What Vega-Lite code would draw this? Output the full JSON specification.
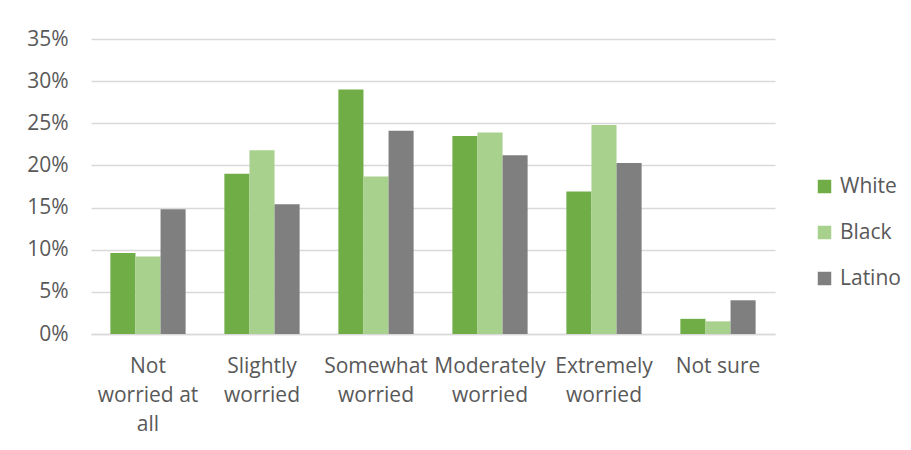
{
  "$schema": "https://vega.github.io/schema/vega-lite/v6.json",
  "autosize": {"type": "none"},
  "width": 684,
  "height": 295,
  "padding": {"left": 91, "top": 39, "right": 136, "bottom": 116},
  "background": "white",
  "data": {
    "values": [
      {"category": "Not worried at all", "group": "White", "value": 0.096},
      {"category": "Not worried at all", "group": "Black", "value": 0.092},
      {"category": "Not worried at all", "group": "Latino", "value": 0.148},
      {"category": "Slightly worried", "group": "White", "value": 0.190},
      {"category": "Slightly worried", "group": "Black", "value": 0.218},
      {"category": "Slightly worried", "group": "Latino", "value": 0.154},
      {"category": "Somewhat worried", "group": "White", "value": 0.290},
      {"category": "Somewhat worried", "group": "Black", "value": 0.187},
      {"category": "Somewhat worried", "group": "Latino", "value": 0.241},
      {"category": "Moderately worried", "group": "White", "value": 0.235},
      {"category": "Moderately worried", "group": "Black", "value": 0.239},
      {"category": "Moderately worried", "group": "Latino", "value": 0.212},
      {"category": "Extremely worried", "group": "White", "value": 0.169},
      {"category": "Extremely worried", "group": "Black", "value": 0.248},
      {"category": "Extremely worried", "group": "Latino", "value": 0.203},
      {"category": "Not sure", "group": "White", "value": 0.018},
      {"category": "Not sure", "group": "Black", "value": 0.015},
      {"category": "Not sure", "group": "Latino", "value": 0.040}
    ]
  },
  "mark": {"type": "bar"},
  "encoding": {
    "x": {
      "field": "category",
      "type": "nominal",
      "sort": null,
      "scale": {"paddingInner": 0.34, "paddingOuter": 0.17},
      "axis": {
        "title": null,
        "labelAngle": 0,
        "ticks": false,
        "domainColor": "#D9D9D9",
        "domainWidth": 1.5,
        "labelPadding": 21,
        "labelLineHeight": 29,
        "labelBaseline": "top",
        "labelExpr": "datum.value == 'Not worried at all' ? ['Not', 'worried at', 'all'] : datum.value == 'Not sure' ? 'Not sure' : split(datum.value, ' ')"
      }
    },
    "xOffset": {"field": "group", "type": "nominal", "sort": ["White", "Black", "Latino"]},
    "y": {
      "field": "value",
      "type": "quantitative",
      "scale": {"domain": [0, 0.35]},
      "axis": {
        "title": null,
        "values": [0, 0.05, 0.1, 0.15, 0.2, 0.25, 0.3, 0.35],
        "format": ".0%",
        "domain": false,
        "ticks": false,
        "labelPadding": 23,
        "gridColor": "#D9D9D9",
        "gridWidth": 1.5
      }
    },
    "color": {
      "field": "group",
      "type": "nominal",
      "sort": ["White", "Black", "Latino"],
      "scale": {"domain": ["White", "Black", "Latino"], "range": ["#70AD47", "#A9D18E", "#7F7F7F"]},
      "legend": {
        "title": null,
        "orient": "none",
        "legendX": 723,
        "legendY": 137,
        "padding": 0,
        "symbolType": "square",
        "symbolSize": 182,
        "symbolStrokeWidth": 0,
        "labelOffset": 5,
        "rowPadding": 24
      }
    }
  },
  "config": {
    "view": {"stroke": null},
    "font": "Open Sans",
    "axis": {"labelFont": "Open Sans", "labelFontSize": 21, "labelColor": "#595959"},
    "legend": {"labelFont": "Open Sans", "labelFontSize": 21, "labelColor": "#595959"}
  }
}
